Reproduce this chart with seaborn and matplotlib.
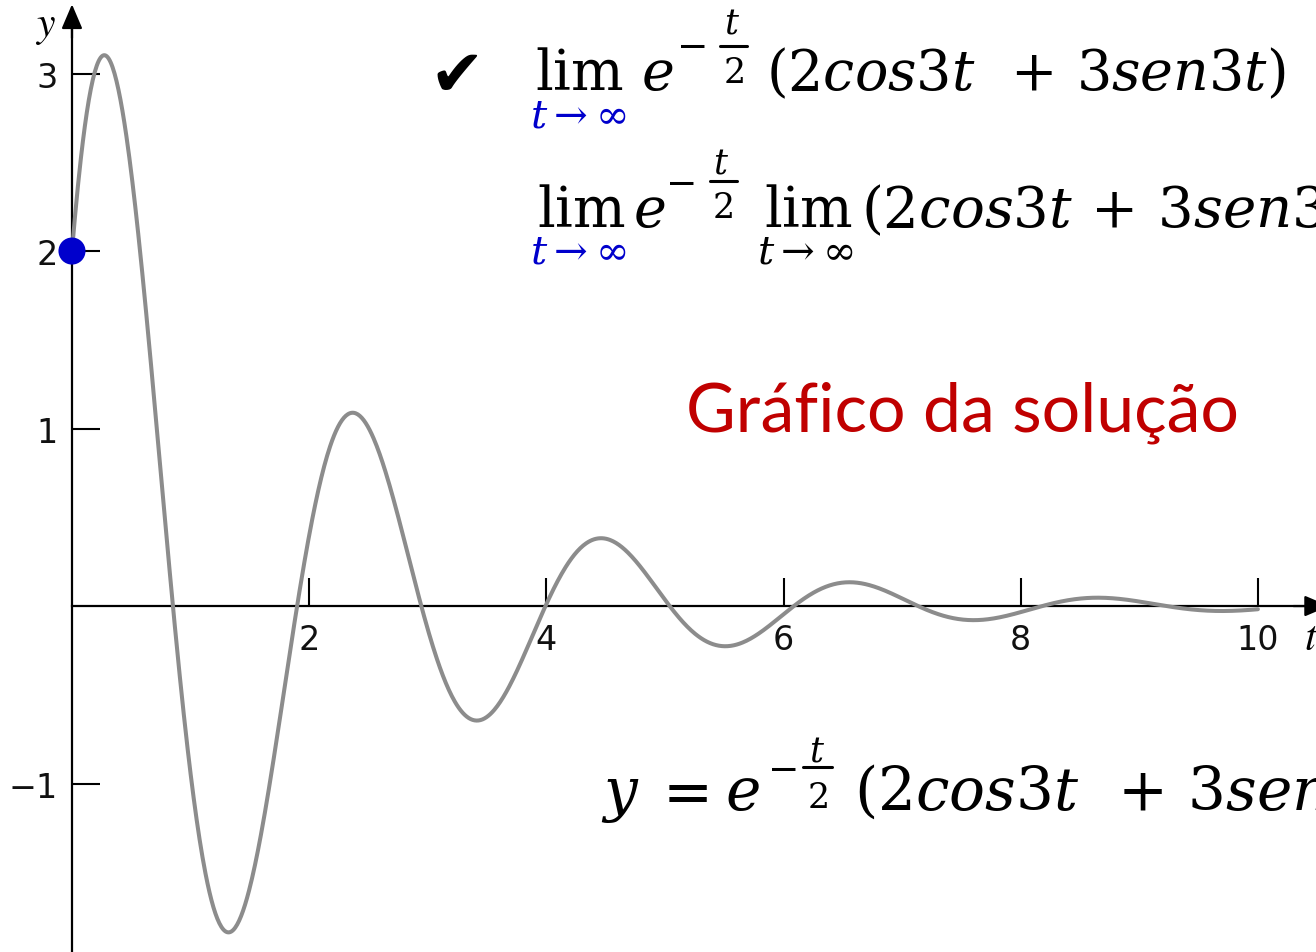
import numpy as np
import matplotlib
matplotlib.use("Agg")
import matplotlib.pyplot as plt
from matplotlib.lines import Line2D
import seaborn as sns

# Solution y(t) = e^{-t/2} (2 cos 3t + 3 sen 3t)
decay = 0.5
omega = 3.0
coef_cos = 2.0
coef_sin = 3.0
t_start, t_end = 0.0, 10.0

initial_t = [0.0]
initial_y = [2.0]

x_ticks = [2, 4, 6, 8, 10]
x_tick_labels = ["2", "4", "6", "8", "10"]
y_ticks = [-1, 1, 2, 3]
y_tick_labels = ["\u22121", "1", "2", "3"]

W, H = 1316, 953
sns.set_style("white")
plt.rcParams["font.family"] = ["DejaVu Sans"]
plt.rcParams["mathtext.fontset"] = "dejavuserif"

fig = plt.figure(figsize=(W / 100, H / 100), dpi=100)
ax = fig.add_axes([0, 0, 1, 1])
ax.set_facecolor("white")

t = np.linspace(t_start, t_end, 1200)
y = np.exp(-decay * t) * (coef_cos * np.cos(omega * t) + coef_sin * np.sin(omega * t))

sns.lineplot(x=t, y=y, ax=ax, color="#8c8c8c", linewidth=2.9, zorder=3)
sns.scatterplot(x=initial_t, y=initial_y, ax=ax, color="#0000cc", s=380,
                edgecolor="none", zorder=5, clip_on=False)

x_left, x_right = -0.607, 10.49
y_bottom, y_top = -1.949, 3.42
ax.set_xlim(x_left, x_right)
ax.set_ylim(y_bottom, y_top)

for side in ("top", "right"):
    ax.spines[side].set_visible(False)
ax.spines["left"].set_position(("data", 0))
ax.spines["bottom"].set_position(("data", 0))
for side in ("left", "bottom"):
    ax.spines[side].set_linewidth(1.6)
    ax.spines[side].set_color("black")
ax.spines["left"].set_bounds(y_bottom, 3.30)
ax.spines["bottom"].set_bounds(0, 10.45)

# arrow heads on both axes
arrow = dict(arrowstyle="-|>,head_length=0.75,head_width=0.32", color="black",
             lw=1.6, mutation_scale=20, shrinkA=0, shrinkB=0)
ax.annotate("", xy=(0, 3.39), xytext=(0, 3.2), arrowprops=arrow, annotation_clip=False)
ax.annotate("", xy=(10.60, 0), xytext=(10.3, 0), arrowprops=arrow, annotation_clip=False)

ax.set_xticks(x_ticks)
ax.set_xticklabels(x_tick_labels)
ax.set_yticks(y_ticks)
ax.set_yticklabels(y_tick_labels)
ax.tick_params(axis="both", direction="in", length=20, width=1.5, color="black",
               labelsize=24, labelcolor="#111111", bottom=True, left=True)
ax.tick_params(axis="x", pad=12)
ax.tick_params(axis="y", pad=10.5)
ax.grid(False)


def px(x, yy):
    return x / W, 1 - yy / H


def put(x, yy, s, size, ha="left", color="black", **kw):
    fig.text(*px(x, yy), s, fontsize=size, ha=ha, va="baseline", color=color, **kw)


def bar(x0, x1, yy, lw=2.2):
    fig.add_artist(Line2D([x0 / W, x1 / W], [1 - yy / H, 1 - yy / H],
                          transform=fig.transFigure, color="black", lw=lw))


def minus(xc, yy, size=27):
    fig.text(*px(xc, yy), "\u2212", fontsize=size, ha="center", va="center",
             family=["DejaVu Serif"], color="black")


# axis names
put(35, 36, r"$y$", 30, math_fontfamily="stix")
put(1304, 650, r"$t$", 30, math_fontfamily="stix")

BIG = 40
SUB = 29
FR = 25

# first limit (checked)
fig.text(*px(457, 78), "\u2714", fontsize=47, ha="center", va="center",
         family=["DejaVu Sans"], color="black")
put(535, 90, r"$\mathrm{lim}$", BIG)
put(578, 128, r"$t\rightarrow\infty$", SUB, ha="center", color="#0000cc")
put(641, 90, r"$e$", BIG)
minus(693, 48)
put(732, 33, r"$t$", FR, ha="center")
bar(720, 747, 47)
put(733, 83, r"$2$", FR, ha="center")
put(766, 90, r"$(2cos3t\ \,+\,3sen3t)$", BIG)

# second limit (split)
put(537, 227, r"$\mathrm{lim}$", BIG)
put(578, 263, r"$t\rightarrow\infty$", SUB, ha="center", color="#0000cc")
put(633, 227, r"$e$", BIG)
minus(682, 185)
put(721, 173, r"$t$", FR, ha="center")
bar(710, 737, 182)
put(722, 218, r"$2$", FR, ha="center")
put(764, 227, r"$\mathrm{lim}$", BIG)
put(805, 263, r"$t\rightarrow\infty$", SUB, ha="center")
put(861, 227, r"$(2cos3t\,+\,3sen3t)$", 40.5)

# solution formula
BIG3 = 43
put(601, 810, r"$y$", BIG3)
put(651, 810, r"$=$", BIG3)
put(725, 810, r"$e$", BIG3)
minus(784, 771)
put(817, 762, r"$t$", FR, ha="center")
bar(803, 832, 768)
put(817, 808, r"$2$", FR, ha="center")
put(854, 810, r"$(2cos3t\ \,+\,3sen3t)$", BIG3)

# caption
fig.text(*px(686, 432), "Gráfico da solução", fontsize=49, ha="left", va="baseline",
         color="#c00000", family=["Lato", "DejaVu Sans"])

fig.savefig("out.png", dpi=100)
